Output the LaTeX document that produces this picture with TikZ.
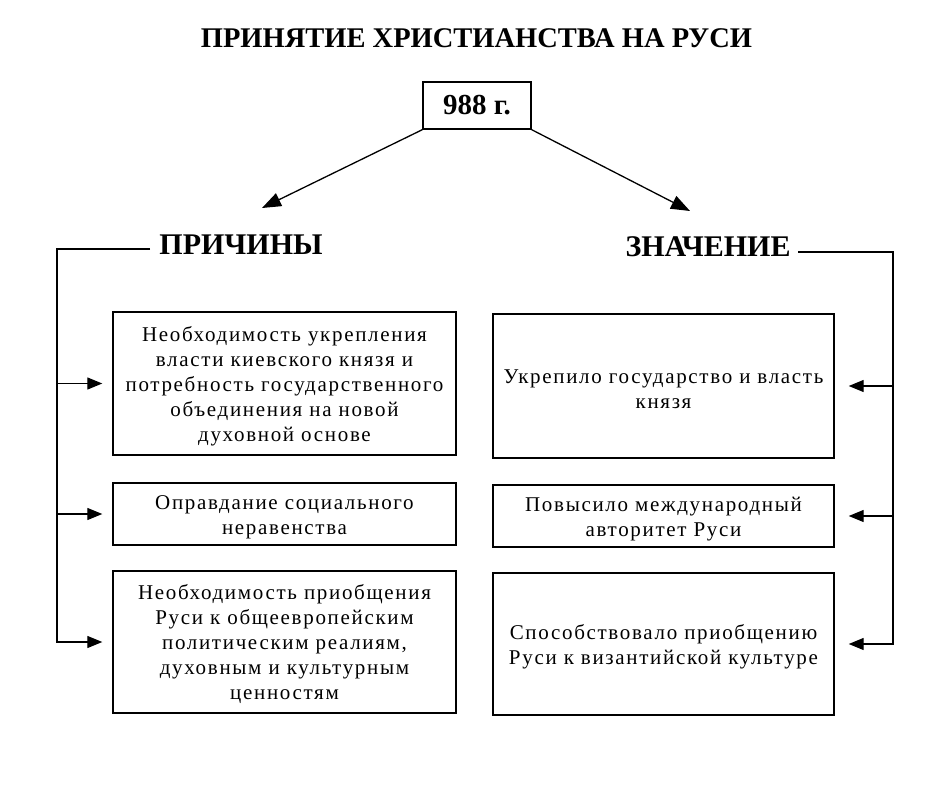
\documentclass[tikz,border=0pt]{standalone}
\usepackage{fontspec}
\setmainfont{Liberation Serif}
\newfontfamily\boxfont[LetterSpace=8]{Liberation Serif}
\usetikzlibrary{arrows.meta}
\tikzset{
  box/.style={draw, line width=1.4pt, minimum width=343pt, text width=335pt, align=center, inner sep=0pt, font=\boxfont\fontsize{21}{25}\selectfont, execute at begin node={\rule{0pt}{20pt}}},
  rbox/.style={box, minimum width=341pt},
  head/.style={font=\fontsize{30}{32}\selectfont\bfseries, inner sep=0pt},
  conn/.style={line width=1.3pt},
  sidearr/.style={conn, -{Triangle[length=15pt,width=12pt]}},
  bigarr/.style={conn, -{Triangle[length=19pt,width=14pt]}},
}
\begin{document}
\begin{tikzpicture}[x=1pt,y=-1pt]
\useasboundingbox (0,0) rectangle (926,805);
\node[head, font=\fontsize{28.5}{30}\selectfont\bfseries] (title) at (476.5,38) {ПРИНЯТИЕ ХРИСТИАНСТВА НА РУСИ};
\node[draw, line width=1.4pt, minimum width=108pt, minimum height=47pt, inner sep=0pt, font=\fontsize{29}{30}\selectfont\bfseries] (year) at (477,105.5) {988 г.};
\node[head] (causes) at (241,245) {ПРИЧИНЫ};
\node[head] (meaning) at (708,247) {ЗНАЧЕНИЕ};
\coordinate (ltip) at (262,208);
\coordinate (rtip) at (690,211);
\draw[bigarr] (year.south west) -- (ltip);
\draw[bigarr] (year.south east) -- (rtip);

\node[box, minimum height=143pt] (L1) at (284.5,383.5) {Необходимость укрепления\\власти киевского князя и\\потребность государственного\\объединения на новой\\духовной основе};
\node[box, minimum height=62pt] (L2) at (284.5,514) {Оправдание социального\\неравенства};
\node[box, minimum height=142pt] (L3) at (284.5,642) {Необходимость приобщения\\Руси к общеевропейским\\политическим реалиям,\\духовным и культурным\\ценностям};

\node[rbox, minimum height=144pt] (R1) at (663.5,386) {Укрепило государство и власть\\князя};
\node[rbox, minimum height=62pt] (R2) at (663.5,516) {Повысило международный\\авторитет Руси};
\node[rbox, minimum height=142pt] (R3) at (663.5,644) {Способствовало приобщению\\Руси к византийской культуре};

\coordinate (lstart) at (150,249);
\coordinate (lcorner) at (57,249);
\draw[sidearr, shorten >=10pt] (lstart) -- (lcorner) |- (L3.west);
\draw[sidearr, shorten >=10pt] (lcorner |- L1.west) -- (L1.west);
\draw[sidearr, shorten >=10pt] (lcorner |- L2.west) -- (L2.west);

\coordinate (rstart) at (798,252);
\coordinate (rcorner) at (893,252);
\draw[sidearr, shorten >=14pt] (rstart) -- (rcorner) |- (R3.east);
\draw[sidearr, shorten >=14pt] (rcorner |- R1.east) -- (R1.east);
\draw[sidearr, shorten >=14pt] (rcorner |- R2.east) -- (R2.east);
\end{tikzpicture}
\end{document}
